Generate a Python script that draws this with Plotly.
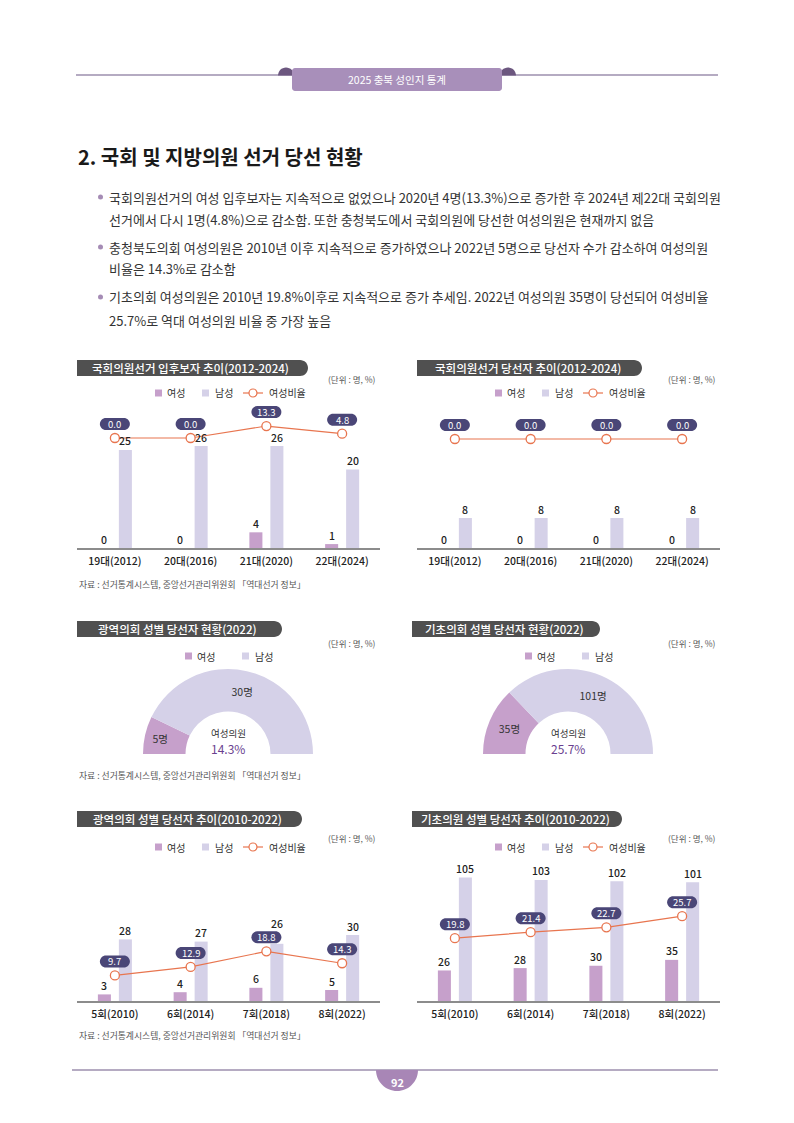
import plotly.graph_objects as go

W, H = 794, 1123
FONT = "Noto Sans CJK KR"

# ---------------- data ----------------
nat_cats = ["19대(2012)", "20대(2016)", "21대(2020)", "22대(2024)"]
cand_female = [0, 0, 4, 1]
cand_male = [25, 26, 26, 20]
cand_ratio = [0.0, 0.0, 13.3, 4.8]

elect_female = [0, 0, 0, 0]
elect_male = [8, 8, 8, 8]
elect_ratio = [0.0, 0.0, 0.0, 0.0]

local_cats = ["5회(2010)", "6회(2014)", "7회(2018)", "8회(2022)"]
prov_female = [3, 4, 6, 5]
prov_male = [28, 27, 26, 30]
prov_ratio = [9.7, 12.9, 18.8, 14.3]

basic_female = [26, 28, 30, 35]
basic_male = [105, 103, 102, 101]
basic_ratio = [19.8, 21.4, 22.7, 25.7]

prov_2022 = [5, 30]     # 여성, 남성
basic_2022 = [35, 101]  # 여성, 남성

# ---------------- styles ----------------
FEM = "#c6a0cb"
MALE = "#d5d1e8"
LINEC = "#e8754f"
PILLC = "#4a4677"
TITLEC = "#505050"
HEADC = "#a88fba"
DARKP = "#6c577f"
RULEC = "#9d8fae"
TXT = "#333333"


def X(p):
    return p / W


def Y(p):
    return 1 - p / H


def pt(x, y):
    return f"{X(x):.5f},{Y(y):.5f}"


K = 0.5523

shapes = []
annotations = []


def ann(x, y, text, size=10, color=TXT, anchor="left", weight=400, **kw):
    d = dict(x=X(x), y=Y(y), xref="paper", yref="paper", text=text,
             showarrow=False, xanchor=anchor, yanchor="middle",
             font=dict(family=FONT, size=size, color=color, weight=weight))
    d.update(kw)
    annotations.append(d)


def upper_half_disc(cx, cy, r, color):
    k = K * r
    path = (f"M {pt(cx - r, cy)} C {pt(cx - r, cy - k)} {pt(cx - k, cy - r)} {pt(cx, cy - r)} "
            f"C {pt(cx + k, cy - r)} {pt(cx + r, cy - k)} {pt(cx + r, cy)} Z")
    shapes.append(dict(type="path", xref="paper", yref="paper", path=path,
                       fillcolor=color, line=dict(width=0), layer="below"))


def lower_half_disc(cx, cy, r, color):
    k = K * r
    path = (f"M {pt(cx - r, cy)} C {pt(cx - r, cy + k)} {pt(cx - k, cy + r)} {pt(cx, cy + r)} "
            f"C {pt(cx + k, cy + r)} {pt(cx + r, cy + k)} {pt(cx + r, cy)} Z")
    shapes.append(dict(type="path", xref="paper", yref="paper", path=path,
                       fillcolor=color, line=dict(width=0), layer="below"))


def round_rect(x0, y0, x1, y1, r, color):
    k = K * r
    path = (f"M {pt(x0 + r, y0)} L {pt(x1 - r, y0)} C {pt(x1 - r + k, y0)} {pt(x1, y0 + r - k)} {pt(x1, y0 + r)} "
            f"L {pt(x1, y1 - r)} C {pt(x1, y1 - r + k)} {pt(x1 - r + k, y1)} {pt(x1 - r, y1)} "
            f"L {pt(x0 + r, y1)} C {pt(x0 + r - k, y1)} {pt(x0, y1 - r + k)} {pt(x0, y1 - r)} "
            f"L {pt(x0, y0 + r)} C {pt(x0, y0 + r - k)} {pt(x0 + r - k, y0)} {pt(x0 + r, y0)} Z")
    shapes.append(dict(type="path", xref="paper", yref="paper", path=path,
                       fillcolor=color, line=dict(width=0), layer="below"))


def title_pill(x0, x1, y0, y1, text):
    r = (y1 - y0) / 2
    k = K * r
    path = (f"M {pt(x0, y0)} L {pt(x1 - r, y0)} C {pt(x1 - r + k, y0)} {pt(x1, y0 + r - k)} {pt(x1, y0 + r)} "
            f"C {pt(x1, y0 + r + k)} {pt(x1 - r + k, y1)} {pt(x1 - r, y1)} L {pt(x0, y1)} Z")
    shapes.append(dict(type="path", xref="paper", yref="paper", path=path,
                       fillcolor=TITLEC, line=dict(width=0), layer="below"))
    ann((x0 + x1) / 2 - 2, (y0 + y1) / 2, text, size=11.5, color="white", anchor="center", weight=500)


def legend(xoff, y, with_line=True):
    shapes.append(dict(type="rect", xref="paper", yref="paper", x0=X(xoff + 78), x1=X(xoff + 85),
                       y0=Y(y + 3.5), y1=Y(y - 3.5), fillcolor=FEM, line=dict(width=0)))
    ann(xoff + 88, y, "여성", size=10)
    shapes.append(dict(type="rect", xref="paper", yref="paper", x0=X(xoff + 125), x1=X(xoff + 132),
                       y0=Y(y + 3.5), y1=Y(y - 3.5), fillcolor=MALE, line=dict(width=0)))
    ann(xoff + 136, y, "남성", size=10)
    if with_line:
        shapes.append(dict(type="line", xref="paper", yref="paper", x0=X(xoff + 166), x1=X(xoff + 186),
                           y0=Y(y), y1=Y(y), line=dict(color=LINEC, width=1.2)))
        shapes.append(dict(type="circle", xref="paper", yref="paper", x0=X(xoff + 172), x1=X(xoff + 180),
                           y0=Y(y + 4), y1=Y(y - 4), fillcolor="white", line=dict(color=LINEC, width=1.2)))
        ann(xoff + 190, y, "여성비율", size=10)


def donut_legend(xoff, y):
    shapes.append(dict(type="rect", xref="paper", yref="paper", x0=X(xoff + 108), x1=X(xoff + 115),
                       y0=Y(y + 3.5), y1=Y(y - 3.5), fillcolor=FEM, line=dict(width=0)))
    ann(xoff + 118, y, "여성", size=10)
    shapes.append(dict(type="rect", xref="paper", yref="paper", x0=X(xoff + 165), x1=X(xoff + 172),
                       y0=Y(y + 3.5), y1=Y(y - 3.5), fillcolor=MALE, line=dict(width=0)))
    ann(xoff + 176, y, "남성", size=10)


fig = go.Figure()
layout_axes = {}

PILL_PATH = ("M -9,8 L 9,8 C 12.3,8 15,10.7 15,14 C 15,17.3 12.3,20 9,20 "
             "L -9,20 C -12.3,20 -15,17.3 -15,14 C -15,10.7 -12.3,8 -9,8 Z")
PILL_LIFT = 14
LABEL_LIFT = 9

BW = 0.172
F_OFF = -0.2244
M_OFF = 0.0528
LABEL_FONT = dict(family=FONT, size=10.5, color="#222222", weight=500)


def bar_chart(n, cats, fem, male, ratio, x0, x1, ytop, ybot, ppu, r0, rppu):
    xa = "x" if n == 1 else f"x{n}"
    ya = "y" if n == 1 else f"y{n}"
    ya2 = f"y{n + 4}"
    xs = list(range(len(cats)))
    fig.add_trace(go.Bar(x=xs, y=fem, width=BW, offset=F_OFF, marker=dict(color=FEM, line=dict(width=0)),
                         xaxis=xa, yaxis=ya, hoverinfo="skip", showlegend=False))
    fig.add_trace(go.Bar(x=xs, y=male, width=BW, offset=M_OFF, marker=dict(color=MALE, line=dict(width=0)),
                         xaxis=xa, yaxis=ya, hoverinfo="skip", showlegend=False))
    fig.add_trace(go.Scatter(x=xs, y=ratio, mode="lines+markers", xaxis=xa, yaxis=ya2,
                             line=dict(color=LINEC, width=1.2), cliponaxis=False,
                             marker=dict(size=9, color="white", line=dict(color=LINEC, width=1.3)),
                             hoverinfo="skip", showlegend=False))
    axn = "" if n == 1 else str(n)
    layout_axes[f"xaxis{axn}"] = dict(domain=[X(x0), X(x1)], range=[-0.5, len(cats) - 0.5],
                                      tickvals=xs, ticktext=cats, showline=True, linecolor="#8c8c8c",
                                      linewidth=1.5, anchor=ya, showgrid=False, zeroline=False, ticks="",
                                      ticklabelstandoff=3, fixedrange=True,
                                      tickfont=dict(family=FONT, size=10.5, color="#222222", weight=500))
    layout_axes[f"yaxis{axn}"] = dict(domain=[Y(ybot), Y(ytop)], range=[0, (ybot - ytop) / ppu],
                                      visible=False, anchor=xa, fixedrange=True)
    layout_axes[f"yaxis{n + 4}"] = dict(overlaying=ya, anchor=xa, visible=False, fixedrange=True,
                                        range=[-(ybot - r0) / rppu, (r0 - ytop) / rppu])
    for i, r in enumerate(ratio):
        shapes.append(dict(type="path", xref=xa, yref=ya2, xsizemode="pixel", ysizemode="pixel",
                           xanchor=i, yanchor=r, path=PILL_PATH, fillcolor=PILLC,
                           line=dict(width=0), layer="above"))
        annotations.append(dict(x=i, y=r, xref=xa, yref=ya2, yshift=PILL_LIFT, text=f"{r:.1f}",
                                showarrow=False, xanchor="center", yanchor="middle",
                                font=dict(family=FONT, size=9.5, color="white")))
    # value labels above the bars (moved above a ratio pill if they would collide)
    for i in xs:
        annotations.append(dict(x=i + F_OFF + BW / 2, y=fem[i], xref=xa, yref=ya, yshift=LABEL_LIFT,
                                text=str(fem[i]), showarrow=False, xanchor="center", yanchor="middle",
                                font=LABEL_FONT))
        label_px = ybot - male[i] * ppu - LABEL_LIFT
        pill_px = r0 - ratio[i] * rppu - PILL_LIFT
        lift = LABEL_LIFT
        if abs(label_px - pill_px) < 12:
            lift = LABEL_LIFT + (label_px - (pill_px - 14))
        annotations.append(dict(x=i + M_OFF + BW / 2, y=male[i], xref=xa, yref=ya, yshift=lift,
                                text=str(male[i]), showarrow=False, xanchor="center", yanchor="middle",
                                font=LABEL_FONT))


def donut(values, cx, cy, r):
    f, m = values
    fig.add_trace(go.Pie(values=[f, m, f + m], text=[f"{f}명", f"{m}명", ""], textinfo="text",
                         sort=False, direction="clockwise", rotation=270, hole=0.5,
                         marker=dict(colors=[FEM, MALE, "rgba(0,0,0,0)"], line=dict(width=0)),
                         domain=dict(x=[X(cx - r), X(cx + r)], y=[Y(cy + r), Y(cy - r)]),
                         textposition="inside", insidetextorientation="horizontal",
                         textfont=dict(family=FONT, size=10.5, color=TXT),
                         hoverinfo="skip", showlegend=False))
    ann(cx, cy - 21, "여성의원", size=9.5, anchor="center")
    ann(cx, cy - 5.5, f"{f / (f + m) * 100:.1f}%", size=12, color="#6a3f8f", anchor="center")


# ---------------- header ----------------
shapes.append(dict(type="line", xref="paper", yref="paper", x0=X(76), x1=X(718), y0=Y(75), y1=Y(75),
                   line=dict(color=RULEC, width=1.5), layer="below"))
upper_half_disc(286, 75.5, 8, DARKP)
upper_half_disc(508, 75.5, 8, DARKP)
round_rect(292, 68, 502, 91, 3, HEADC)
ann(397, 80, "2025 충북 성인지 통계", size=10.5, color="white", anchor="center")

# ---------------- title & bullets ----------------
ann(76, 156, "2. 국회 및 지방의원 선거 당선 현황", size=20, color="#1a1a1a", weight=700)

body = [
    ("국회의원선거의 여성 입후보자는 지속적으로 없었으나 2020년 4명(13.3%)으로 증가한 후 2024년 제22대 국회의원", 197, True),
    ("선거에서 다시 1명(4.8%)으로 감소함. 또한 충청북도에서 국회의원에 당선한 여성의원은 현재까지 없음", 219, False),
    ("충청북도의회 여성의원은 2010년 이후 지속적으로 증가하였으나 2022년 5명으로 당선자 수가 감소하여 여성의원", 247, True),
    ("비율은 14.3%로 감소함", 269, False),
    ("기초의회 여성의원은 2010년 19.8%이후로 지속적으로 증가 추세임. 2022년 여성의원 35명이 당선되어 여성비율", 297, True),
    ("25.7%로 역대 여성의원 비율 중 가장 높음", 320, False),
]
for text, yy, bullet in body:
    if bullet:
        shapes.append(dict(type="circle", xref="paper", yref="paper", x0=X(98), x1=X(103),
                           y0=Y(yy + 2.5), y1=Y(yy - 2.5), fillcolor="#a58cb5", line=dict(width=0)))
    ann(107, yy, text, size=13, color=TXT)

# ---------------- chart titles, units, legends ----------------
title_pill(77, 308, 360, 376, "국회의원선거 입후보자 추이(2012-2024)")
title_pill(417, 642, 360, 376, "국회의원선거 당선자 추이(2012-2024)")
title_pill(77, 282, 621, 637, "광역의회 성별 당선자 현황(2022)")
title_pill(412, 600, 621, 637, "기초의회 성별 당선자 현황(2022)")
title_pill(77, 302, 811, 827, "광역의회 성별 당선자 추이(2010-2022)")
title_pill(412, 622, 811, 827, "기초의원 성별 당선자 추이(2010-2022)")

for xr, yy in [(378, 379), (718, 379), (378, 643), (718, 643), (378, 838), (718, 838)]:
    ann(xr, yy, "(단위 : 명, %)", size=8.5, color="#555555", anchor="right")

legend(77, 393)
legend(417, 393)
legend(77, 847)
legend(417, 847)
donut_legend(77, 656)
donut_legend(417, 656)

SRC = "자료 : 선거통계시스템, 중앙선거관리위원회 「역대선거 정보」"
for yy in [584, 775, 1035]:
    ann(77, yy, SRC, size=8.8, color="#555555")

# ---------------- charts ----------------
bar_chart(1, nat_cats, cand_female, cand_male, cand_ratio, 77, 380, 400, 548, 3.92, 438, 0.9)
bar_chart(2, nat_cats, elect_female, elect_male, elect_ratio, 417, 720, 400, 548, 3.75, 439, 0.9)
bar_chart(3, local_cats, prov_female, prov_male, prov_ratio, 77, 380, 860, 1001, 2.2, 1001, 2.64)
bar_chart(4, local_cats, basic_female, basic_male, basic_ratio, 417, 720, 860, 1001, 1.175, 1012, 3.73)

donut(prov_2022, 228, 754, 85)
donut(basic_2022, 568, 754, 85)

# ---------------- footer ----------------
shapes.append(dict(type="line", xref="paper", yref="paper", x0=X(72), x1=X(718), y0=Y(1070), y1=Y(1070),
                   line=dict(color=RULEC, width=1.5), layer="below"))
lower_half_disc(397, 1070, 21, "#a886b6")
ann(397, 1082, "92", size=11, color="white", anchor="center", weight=700)

fig.update_layout(
    width=W, height=H, margin=dict(l=0, r=0, t=0, b=0),
    paper_bgcolor="white", plot_bgcolor="rgba(0,0,0,0)",
    font=dict(family=FONT, color=TXT),
    barmode="overlay", showlegend=False,
    shapes=shapes, annotations=annotations,
    **layout_axes,
)

fig.write_html("out.html", config=dict(displayModeBar=False, staticPlot=True),
               post_script="document.body.style.margin='0';document.body.style.overflow='hidden';")
